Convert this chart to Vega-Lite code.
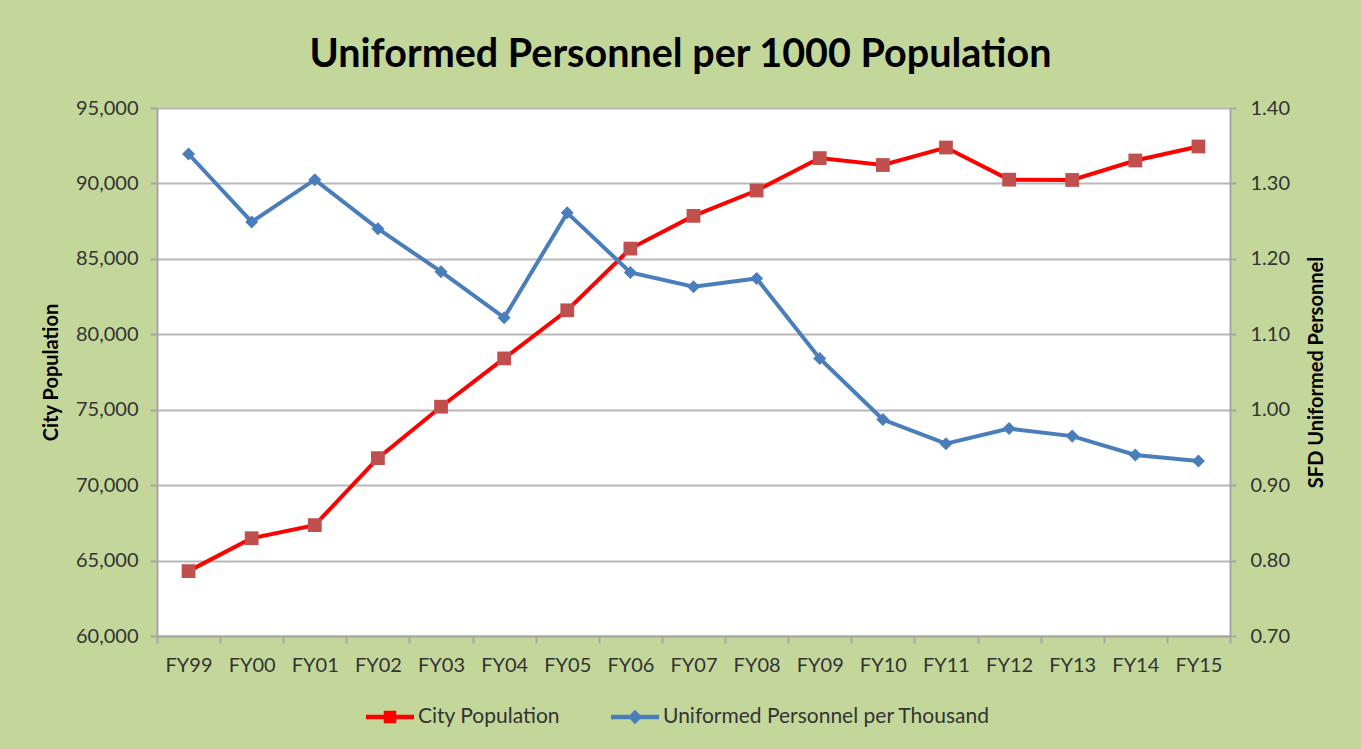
{
  "$schema": "https://vega.github.io/schema/vega-lite/v6.json",
  "width": 1073,
  "height": 528,
  "autosize": {"type": "none"},
  "padding": {"left": 157, "top": 108, "right": 131, "bottom": 113},
  "background": "#c4d79b",
  "config": {
    "view": {"stroke": null, "fill": "white"},
    "font": "Lato"
  },
  "title": {
    "text": "Uniformed Personnel per 1000 Population",
    "font": "Lato",
    "fontSize": 39.5,
    "fontWeight": "bold",
    "color": "#000000",
    "anchor": "middle",
    "offset": 23,
    "dx": -13
  },
  "data": {
    "values": [
      {"year": "FY99", "series": "City Population", "value": 64300},
      {"year": "FY00", "series": "City Population", "value": 66480},
      {"year": "FY01", "series": "City Population", "value": 67350},
      {"year": "FY02", "series": "City Population", "value": 71790},
      {"year": "FY03", "series": "City Population", "value": 75200},
      {"year": "FY04", "series": "City Population", "value": 78400},
      {"year": "FY05", "series": "City Population", "value": 81590},
      {"year": "FY06", "series": "City Population", "value": 85680},
      {"year": "FY07", "series": "City Population", "value": 87850},
      {"year": "FY08", "series": "City Population", "value": 89530},
      {"year": "FY09", "series": "City Population", "value": 91680},
      {"year": "FY10", "series": "City Population", "value": 91220},
      {"year": "FY11", "series": "City Population", "value": 92380},
      {"year": "FY12", "series": "City Population", "value": 90250},
      {"year": "FY13", "series": "City Population", "value": 90230},
      {"year": "FY14", "series": "City Population", "value": 91520},
      {"year": "FY15", "series": "City Population", "value": 92450},
      {"year": "FY99", "series": "Uniformed Personnel per Thousand", "value": 1.339},
      {"year": "FY00", "series": "Uniformed Personnel per Thousand", "value": 1.249},
      {"year": "FY01", "series": "Uniformed Personnel per Thousand", "value": 1.305},
      {"year": "FY02", "series": "Uniformed Personnel per Thousand", "value": 1.240},
      {"year": "FY03", "series": "Uniformed Personnel per Thousand", "value": 1.183},
      {"year": "FY04", "series": "Uniformed Personnel per Thousand", "value": 1.122},
      {"year": "FY05", "series": "Uniformed Personnel per Thousand", "value": 1.261},
      {"year": "FY06", "series": "Uniformed Personnel per Thousand", "value": 1.182},
      {"year": "FY07", "series": "Uniformed Personnel per Thousand", "value": 1.163},
      {"year": "FY08", "series": "Uniformed Personnel per Thousand", "value": 1.174},
      {"year": "FY09", "series": "Uniformed Personnel per Thousand", "value": 1.068},
      {"year": "FY10", "series": "Uniformed Personnel per Thousand", "value": 0.987},
      {"year": "FY11", "series": "Uniformed Personnel per Thousand", "value": 0.955},
      {"year": "FY12", "series": "Uniformed Personnel per Thousand", "value": 0.975},
      {"year": "FY13", "series": "Uniformed Personnel per Thousand", "value": 0.965},
      {"year": "FY14", "series": "Uniformed Personnel per Thousand", "value": 0.940},
      {"year": "FY15", "series": "Uniformed Personnel per Thousand", "value": 0.932}
    ]
  },
  "encoding": {
    "x": {
      "field": "year",
      "type": "ordinal",
      "sort": null,
      "bandPosition": 0.5,
      "scale": {"type": "band", "paddingInner": 0, "paddingOuter": 0},
      "axis": {
        "title": null,
        "labelAngle": 0,
        "labelFontSize": 20,
        "labelColor": "#333333",
        "labelPadding": 12,
        "tickBand": "extent",
        "tickSize": 7,
        "tickColor": "#a6a6a6",
        "tickWidth": 2,
        "domainColor": "#a6a6a6",
        "domainWidth": 2,
        "grid": false
      }
    }
  },
  "layer": [
    {
      "transform": [{"filter": "datum.series === 'City Population'"}],
      "encoding": {
        "y": {
          "field": "value",
          "type": "quantitative",
          "scale": {"domain": [60000, 95000], "nice": false, "zero": false},
          "axis": {
            "orient": "left",
            "values": [60000, 65000, 70000, 75000, 80000, 85000, 90000, 95000],
            "format": ",.0f",
            "title": "City Population",
            "titleFontSize": 20,
            "titleFontWeight": "bold",
            "titleColor": "#000000",
            "titlePadding": 14,
            "labelFontSize": 20,
            "labelColor": "#333333",
            "labelPadding": 12,
            "tickSize": 7,
            "tickColor": "#a6a6a6",
            "tickWidth": 2,
            "domainColor": "#a6a6a6",
            "domainWidth": 2,
            "grid": true,
            "gridColor": "#b8b8b8",
            "gridWidth": 2
          }
        }
      },
      "layer": [
        {
          "mark": {"type": "line", "strokeWidth": 4},
          "encoding": {
            "color": {
              "field": "series",
              "type": "nominal",
              "scale": {
                "domain": ["City Population", "Uniformed Personnel per Thousand"],
                "range": ["#ff0000", "#4a7ebb"]
              },
              "legend": {
                "orient": "none",
                "legendX": 209,
                "legendY": 585,
                "direction": "horizontal",
                "title": null,
                "labelFontSize": 21,
                "labelColor": "#333333",
                "labelOffset": 4,
                "labelLimit": 500,
                "columnPadding": 50,
                "symbolSize": 2304,
                "encode": {
                  "symbols": {
                    "update": {
                      "shape": {"signal": "datum.value === 'City Population' ? 'M-1,-0.09H1V0.09H-1Z M-0.26,-0.26H0.26V0.26H-0.26Z' : 'M-1,-0.09H1V0.09H-1Z M0,-0.3L0.3,0L0,0.3L-0.3,0Z'"},
                      "fill": {"signal": "datum.value === 'City Population' ? '#ff0000' : '#4a7ebb'"},
                      "strokeWidth": {"value": 0}
                    }
                  }
                }
              }
            }
          }
        },
        {
          "mark": {"type": "point", "shape": "square", "filled": true, "size": 190, "color": "#c0504d", "opacity": 1}
        }
      ]
    },
    {
      "transform": [{"filter": "datum.series === 'Uniformed Personnel per Thousand'"}],
      "encoding": {
        "y": {
          "field": "value",
          "type": "quantitative",
          "scale": {"domain": [0.7, 1.4], "nice": false, "zero": false},
          "axis": {
            "orient": "right",
            "values": [0.7, 0.8, 0.9, 1.0, 1.1, 1.2, 1.3, 1.4],
            "format": ".2f",
            "title": "SFD  Uniformed Personnel",
            "titleAngle": 270,
            "titleFontSize": 20,
            "titleFontWeight": "bold",
            "titleColor": "#000000",
            "titlePadding": 37,
            "labelFontSize": 20,
            "labelColor": "#333333",
            "labelPadding": 14,
            "tickSize": 6,
            "tickColor": "#a6a6a6",
            "tickWidth": 2,
            "domainColor": "#a6a6a6",
            "domainWidth": 2,
            "grid": false
          }
        }
      },
      "layer": [
        {
          "mark": {"type": "line", "strokeWidth": 4},
          "encoding": {
            "color": {"field": "series", "type": "nominal"}
          }
        },
        {
          "mark": {"type": "point", "shape": "diamond", "filled": true, "size": 170, "color": "#4a7ebb", "opacity": 1}
        }
      ]
    }
  ],
  "resolve": {"scale": {"y": "independent"}}
}
